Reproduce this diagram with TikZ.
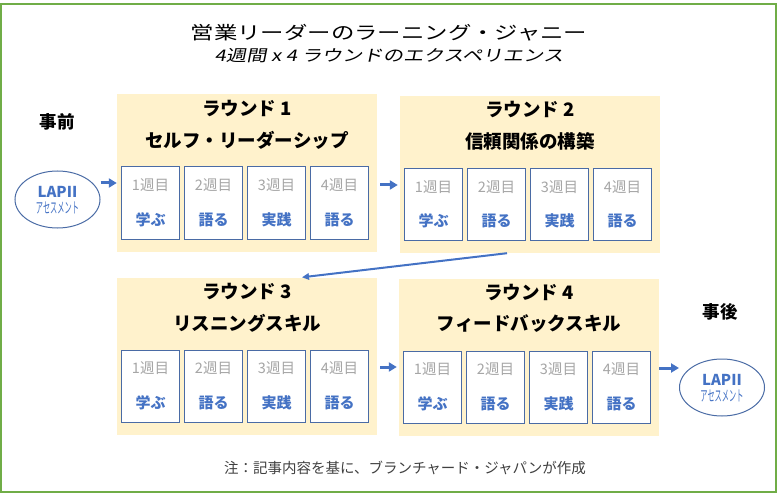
\documentclass[tikz,border=0pt]{standalone}
\usepackage{fontspec}
\setmainfont{Noto Sans CJK JP}
\newfontfamily\titlefont[FakeStretch=1.3]{Noto Sans CJK JP}
\newfontfamily\subtitlefont[FakeSlant=0.2,FakeStretch=1.27]{Noto Sans CJK JP}
\newfontfamily\narrowfont[FakeStretch=0.48]{Noto Sans CJK JP}
\usepackage{xcolor}
\usetikzlibrary{arrows.meta,positioning,shapes.geometric}
\definecolor{frameg}{HTML}{70AD47}
\definecolor{roundfill}{HTML}{FFF2CC}
\definecolor{actblue}{HTML}{4472C4}
\definecolor{wkborder}{HTML}{4A6BA5}
\definecolor{wkgray}{HTML}{A6A6A6}
\definecolor{notegray}{HTML}{404040}

\begin{document}
\begin{tikzpicture}[x=1pt, y=-1pt, every node/.style={inner sep=0pt},
  roundbox/.style={fill=roundfill, minimum width=260pt, minimum height=157pt},
  weekbox/.style={draw=wkborder, line width=1pt, fill=white, minimum width=58pt, minimum height=72pt},
  rtitle/.style={font=\fontsize{18.5}{21}\selectfont\bfseries},
  wklabel/.style={font=\fontsize{14.5}{17}\selectfont, text=wkgray},
  wkact/.style={font=\fontsize{15}{18}\selectfont\bfseries, text=actblue},
  side/.style={font=\fontsize{17.5}{20}\selectfont\bfseries},
  lap/.style={draw=wkborder, line width=1pt, ellipse, minimum width=85pt, minimum height=57pt},
  arr/.style={-{Triangle[length=8pt,width=9pt]}, line width=3pt, draw=actblue},
  thinarr/.style={-{Triangle[length=7pt,width=6.5pt]}, line width=2pt, draw=actblue}]
\useasboundingbox (0,0) rectangle (778,494);
\draw[frameg, line width=2pt] (1,4) rectangle (776,492);

\node[font=\titlefont\fontsize{18}{20}\selectfont] (title) at (389,33) {営業リーダーのラーニング・ジャニー};
\node[font=\subtitlefont\fontsize{16}{18}\selectfont, below=7pt of title] (subtitle) {4週間 x 4 ラウンドのエクスペリエンス};

\foreach \r/\cx/\cy/\theme in {1/247/173/セルフ・リーダーシップ, 2/530/174.5/信頼関係の構築,
    3/247/356/リスニングスキル, 4/529/357/フィードバックスキル} {
  \node[roundbox] (r\r) at (\cx,\cy) {};
  \node[rtitle] (r\r t) at ([yshift=65pt]r\r.center) {ラウンド {\r}};
  \node[rtitle] (r\r s) at ([yshift=33pt]r\r.center) {\theme};
  \foreach \w/\act in {1/学ぶ, 2/語る, 3/実践, 4/語る} {
    \node[weekbox] (w\r\w) at ([xshift={(\w-1)*63pt-96.5pt}, yshift=-30pt]r\r.center) {};
    \node[wklabel] (w\r\w l) at ([yshift=17.5pt]w\r\w.center) {{\w}週目};
    \node[wkact] (w\r\w a) at ([yshift=-16.5pt]w\r\w.center) {\act};
  }
}

\node[side] (pre) at (57,122) {事前};
\node[side] (post) at (720,312) {事後};
\node[lap] (lap1) at (57.5,199.5) {};
\node[font=\fontsize{15}{17}\selectfont\bfseries, text=actblue] (lap1a) at ([yshift=7.5pt]lap1.center) {LAPII};
\node[font=\narrowfont\fontsize{15}{17}\selectfont, text=actblue] (lap1b) at ([yshift=-8pt]lap1.center) {アセスメント};
\node[lap] (lap2) at (722,387.5) {};
\node[font=\fontsize{15}{17}\selectfont\bfseries, text=actblue] (lap2a) at ([yshift=7.5pt]lap2.center) {LAPII};
\node[font=\narrowfont\fontsize{15}{17}\selectfont, text=actblue] (lap2b) at ([yshift=-8pt]lap2.center) {アセスメント};

\draw[arr] ([yshift=16.5pt]lap1.east) -- ([yshift=16.5pt]lap1.east -| r1.west);
\draw[arr, shorten <=3pt, shorten >=2pt] ([yshift=-12pt]r1.east) -- ([yshift=-12pt]r1.east -| r2.west);
\draw[thinarr] ([xshift=-23pt]r2.south) -- ([xshift=55pt]r3.north);
\draw[arr, shorten <=3pt, shorten >=2pt] ([yshift=-11pt]r3.east) -- ([yshift=-11pt]r3.east -| r4.west);
\draw[arr] ([yshift=-11pt]r4.east) -- ([yshift=-11pt]r4.east -| lap2.west);

\node[font=\fontsize{14.5}{17}\selectfont, text=notegray] (note) at (405,468) {注：記事内容を基に、ブランチャード・ジャパンが作成};
\end{tikzpicture}
\end{document}
